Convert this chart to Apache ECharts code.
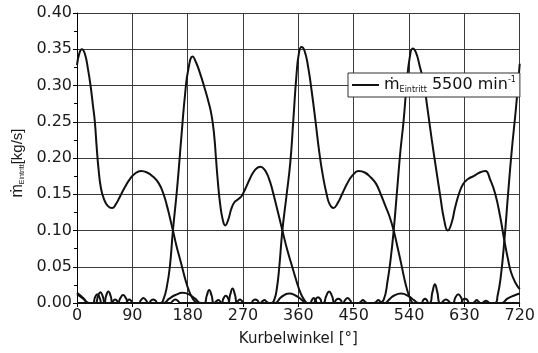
<!DOCTYPE html>
<html><head><meta charset="utf-8">
<script src="https://cdn.jsdelivr.net/npm/echarts@6/dist/echarts.min.js"></script>
<style>html,body{margin:0;padding:0;background:#fff}#c{width:538px;height:353px}</style>
</head><body><div id="c"></div>
<script>
// Crank angle [deg] vs. inlet mass flow [kg/s], one array per cylinder
const cylA = [[0,0.328],[4,0.345],[8,0.350],[13,0.343],[18,0.322],[22,0.300],[26,0.272],[29,0.250],[32,0.215],[35,0.185],[39,0.158],[44,0.143],[50,0.134],[57,0.131],[63,0.136],[70,0.147],[78,0.160],[86,0.171],[95,0.179],[104,0.182],[114,0.180],[124,0.174],[133,0.165],[140,0.152],[146,0.135],[151,0.118],[156,0.100],[162,0.078],[167,0.062],[172,0.046],[177,0.030],[182,0.017],[187,0.008],[192,0.002],[197,0],
  [207,0],[211,0.010],[215,0.018],[219,0.010],[223,0],[258,0],[262,0.003],[265,0.005],[268,0.003],[272,0],[400,0],[405,0.009],[410,0.016],[415,0.009],[420,0],[458,0],[462,0.002],[465,0.004],[468,0.002],[472,0],[500,0],[508,0.005],[515,0.010],[527,0.013],[540,0.009],[548,0.004],[556,0],[592,0],[596,0.003],[600,0.005],[604,0.003],[608,0],[624,0],[627,0.004],[631,0.006],[635,0.004],[638,0],[680,0],
  [684,0.010],[689,0.035],[695,0.086],[701,0.150],[707,0.210],[714,0.270],[720,0.330]];
const cylB = [[0,0.012],[10,0.006],[20,0],[30,0],[34,0.009],[38,0.015],[42,0.009],[46,0],[56,0],[59,0.003],[62,0.005],[65,0.003],[68,0],[100,0],[104,0.004],[108,0.007],[112,0.004],[116,0],[136,0],
  [141,0.006],[146,0.022],[151,0.050],[156,0.100],[163,0.160],[170,0.232],[176,0.290],[181,0.322],[188,0.340],[194,0.331],[200,0.317],[207,0.298],[214,0.277],[219,0.258],[223,0.232],[226,0.200],[229,0.168],[233,0.135],[237,0.115],[241,0.107],[246,0.115],[251,0.130],[256,0.139],[262,0.143],[268,0.148],[274,0.158],[281,0.171],[289,0.183],[298,0.188],[305,0.184],[312,0.172],[318,0.155],[326,0.128],[334,0.100],[342,0.073],[350,0.050],[357,0.030],[363,0.015],[369,0.005],[375,0],
  [379,0],[382,0.004],[385,0.007],[388,0.004],[391,0],[418,0],[421,0.004],[425,0.006],[429,0.004],[432,0],[483,0],[487,0.002],[490,0.004],[493,0.002],[497,0],[573,0],[578,0.015],[582,0.026],[586,0.015],[591,0],[644,0],[647,0.002],[650,0.004],[653,0.002],[656,0],[690,0],[700,0.006],[710,0.010],[720,0.013]];
const cylC = [[0,0],[26,0],[29,0.007],[33,0.012],[37,0.007],[41,0],[66,0],[70,0.006],[75,0.011],[80,0.006],[84,0],[140,0],[150,0.006],[160,0.011],[172,0.014],[182,0.012],[192,0.006],[202,0],[235,0],[238,0.006],[242,0.010],[246,0.006],[249,0],[283,0],[286,0.003],[290,0.005],[294,0.003],[297,0],[316,0],
  [321,0.005],[325,0.020],[329,0.050],[334,0.100],[341,0.150],[347,0.195],[352,0.255],[357,0.315],[361,0.345],[365,0.353],[370,0.348],[376,0.325],[382,0.290],[388,0.250],[394,0.208],[400,0.175],[406,0.150],[411,0.136],[417,0.131],[424,0.138],[431,0.150],[439,0.164],[448,0.176],[458,0.182],[468,0.180],[478,0.173],[486,0.165],[494,0.150],[501,0.135],[508,0.120],[515,0.100],[521,0.078],[527,0.055],[532,0.035],[537,0.018],[542,0.006],[547,0],
  [560,0],[563,0.004],[566,0.006],[569,0.004],[572,0],[611,0],[615,0.007],[620,0.012],[625,0.007],[629,0],[659,0],[662,0.002],[665,0.003],[668,0.002],[671,0],[720,0]];
const cylD = [[0,0.014],[10,0.007],[19,0],[44,0],[47,0.009],[51,0.016],[55,0.009],[58,0],[79,0],[82,0.003],[85,0.005],[88,0.003],[91,0],[117,0],[120,0.003],[124,0.005],[128,0.003],[131,0],[152,0],[156,0.003],[160,0.005],[164,0.003],[168,0],[223,0],[226,0.002],[230,0.004],[233,0.002],[236,0],[245,0],[249,0.011],[253,0.020],[257,0.011],[261,0],[298,0],[301,0.002],[305,0.004],[308,0.002],[312,0],[322,0],[332,0.008],[345,0.013],[356,0.010],[366,0.004],[372,0],[385,0],[388,0.005],[392,0.008],[396,0.005],[399,0],[432,0],[436,0.004],[440,0.007],[444,0.004],[448,0],[492,0],
  [499,0.005],[505,0.030],[510,0.060],[515,0.100],[521,0.160],[526,0.210],[531,0.250],[536,0.300],[541,0.338],[546,0.351],[551,0.346],[557,0.328],[564,0.303],[570,0.268],[577,0.225],[584,0.185],[591,0.146],[597,0.115],[603,0.100],[609,0.110],[615,0.132],[621,0.150],[628,0.164],[636,0.171],[645,0.175],[655,0.180],[664,0.182],[672,0.170],[680,0.151],[688,0.120],[695,0.086],[701,0.060],[706,0.042],[713,0.028],[720,0.019]];
const seriesName = 'mEintritt 5500 min-1';
const xRange = [0, 720, 90];
const yRange = [0, 0.40, 0.05];

const chart = echarts.init(document.getElementById('c'), null, {renderer: 'canvas'});
function mk(data) {
  return {name: seriesName, type: 'line', data: data, smooth: 0.5, symbol: 'none', clip: true,
    lineStyle: {color: '#111', width: 2}, itemStyle: {color: '#111'}};
}
const font = 'DejaVu Sans';
chart.setOption({
  animation: false,
  backgroundColor: '#fff',
  grid: {left: 77, right: 16, top: 13, bottom: 50},
  legend: {
    left: 348, top: 73, padding: [3, 4, 3, 4], itemWidth: 27, itemHeight: 2, itemGap: 5, icon: 'rect',
    backgroundColor: '#fff', borderColor: '#333', borderWidth: 1, borderRadius: 0,
    data: [seriesName],
    formatter: function () { return '{a|ṁ}{b|Eintritt}{a| 5500 min}{c|-1}'; },
    textStyle: {
      color: '#111', fontFamily: font, fontSize: 16,
      rich: {
        a: {fontFamily: font, fontSize: 16, lineHeight: 18, color: '#111'},
        b: {fontFamily: font, fontSize: 8, lineHeight: 9, verticalAlign: 'bottom', color: '#111'},
        c: {fontFamily: font, fontSize: 8, lineHeight: 9, verticalAlign: 'top', color: '#111'}
      }
    }
  },
  xAxis: {
    type: 'value', min: xRange[0], max: xRange[1], interval: xRange[2],
    axisLine: {show: true, onZero: false, lineStyle: {color: '#000', width: 1}},
    axisTick: {show: true, length: 4, lineStyle: {color: '#000'}},
    axisLabel: {color: '#1a1a1a', fontFamily: font, fontSize: 16, margin: 5},
    splitLine: {show: true, lineStyle: {color: '#3a3a3a', width: 1}},
    name: 'Kurbelwinkel [°]', nameLocation: 'middle', nameGap: 29,
    nameTextStyle: {color: '#1a1a1a', fontFamily: font, fontSize: 15}
  },
  yAxis: {
    type: 'value', min: yRange[0], max: yRange[1], interval: yRange[2],
    axisLine: {show: true, lineStyle: {color: '#000', width: 1}},
    axisTick: {show: true, length: 4, lineStyle: {color: '#000'}},
    minorTick: {show: true, splitNumber: 2, length: 3, lineStyle: {color: '#000'}},
    axisLabel: {color: '#1a1a1a', fontFamily: font, fontSize: 16, margin: 5,
      formatter: function (v) { return v.toFixed(2); }},
    splitLine: {show: true, lineStyle: {color: '#3a3a3a', width: 1}},
    name: '{m|ṁ}{s|Eintritt}{n|[kg/s]}', nameLocation: 'middle', nameGap: 49, nameRotate: 90,
    nameTextStyle: {
      color: '#1a1a1a', fontFamily: 'Liberation Sans', fontSize: 14, padding: [0, 10, 0, 0],
      rich: {
        m: {fontFamily: 'Liberation Sans', fontSize: 16, lineHeight: 16, color: '#1a1a1a'},
        s: {fontFamily: 'Liberation Sans', fontSize: 7, lineHeight: 8, verticalAlign: 'bottom', color: '#1a1a1a'},
        n: {fontFamily: 'Liberation Sans', fontSize: 15, lineHeight: 16, color: '#1a1a1a'}
      }
    }
  },
  series: [mk(cylA), mk(cylB), mk(cylC), mk(cylD)]
});
</script>
</body></html>
